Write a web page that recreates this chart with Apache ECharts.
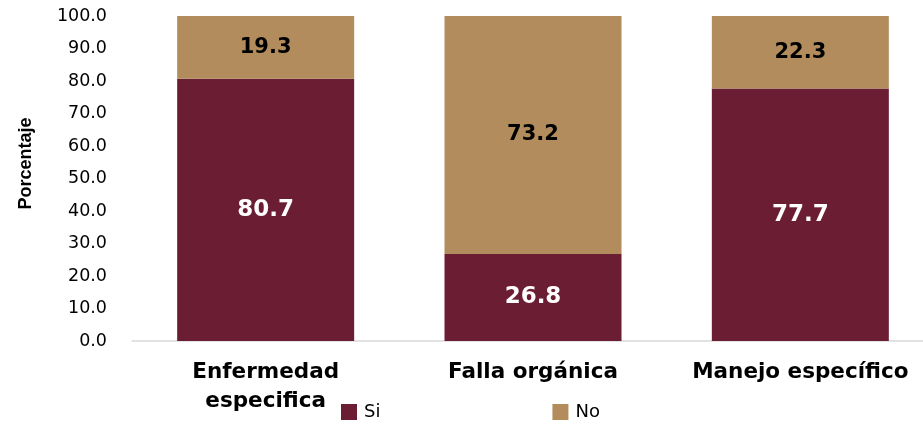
<!DOCTYPE html>
<html><head><meta charset="utf-8">
<script src="https://cdn.jsdelivr.net/npm/echarts@6/dist/echarts.min.js"></script>
<style>html,body{margin:0;padding:0;background:#fff}#c{width:923px;height:425px}</style>
</head><body><div id="c"></div>
<script>
const categories = ['Enfermedad\nespecifica', 'Falla orgánica', 'Manejo específico'];
const siValues = [80.7, 26.8, 77.7];
const noValues = [19.3, 73.2, 22.3];
const seriesNames = ['Si', 'No'];

const chart = echarts.init(document.getElementById('c'), null, {renderer: 'canvas'});
chart.setOption({
  animation: false,
  grid: {left: 132, width: 802, top: 16, height: 325, containLabel: false, outerBoundsMode: 'none'},
  legend: {
    data: seriesNames, top: 398, left: 336, itemWidth: 16, itemHeight: 16, itemGap: 172,
    icon: 'rect',
    textStyle: {fontFamily: 'DejaVu Sans', fontSize: 18, color: '#000', padding: [0,0,0,2]}
  },
  xAxis: {
    type: 'category', data: categories,
    axisLine: {lineStyle: {color: '#d9d9d9', width: 1.5}},
    axisTick: {show: false},
    axisLabel: {fontFamily: 'DejaVu Sans', fontWeight: 'bold', fontSize: 21.5, color: '#000', margin: 17, lineHeight: 29, interval: 0}
  },
  yAxis: {
    type: 'value', min: 0, max: 100, interval: 10,
    name: 'Porcentaje', nameLocation: 'middle', nameGap: 97, nameRotate: 90,
    nameTextStyle: {fontFamily: 'Liberation Sans Narrow, Liberation Sans', fontWeight: 'bold', fontSize: 18, color: '#000', padding: [0,0,0,30]},
    axisLine: {show: false}, axisTick: {show: false}, splitLine: {show: false},
    axisLabel: {formatter: v => v.toFixed(1), fontFamily: 'DejaVu Sans', fontSize: 17.5, color: '#000', margin: 25}
  },
  series: [
    {name: 'Si', type: 'bar', stack: 't', data: siValues, barWidth: 177,
     itemStyle: {color: '#6b1d33'},
     label: {show: true, position: 'inside', formatter: p => p.value.toFixed(1), fontFamily: 'DejaVu Sans', fontWeight: 'bold', fontSize: 23, color: '#fff'}},
    {name: 'No', type: 'bar', stack: 't', data: noValues, barWidth: 177,
     itemStyle: {color: '#b28c5c'},
     label: {show: true, position: 'inside', formatter: p => p.value.toFixed(1), fontFamily: 'DejaVu Sans', fontWeight: 'bold', fontSize: 21, color: '#000'}}
  ]
});
</script></body></html>
